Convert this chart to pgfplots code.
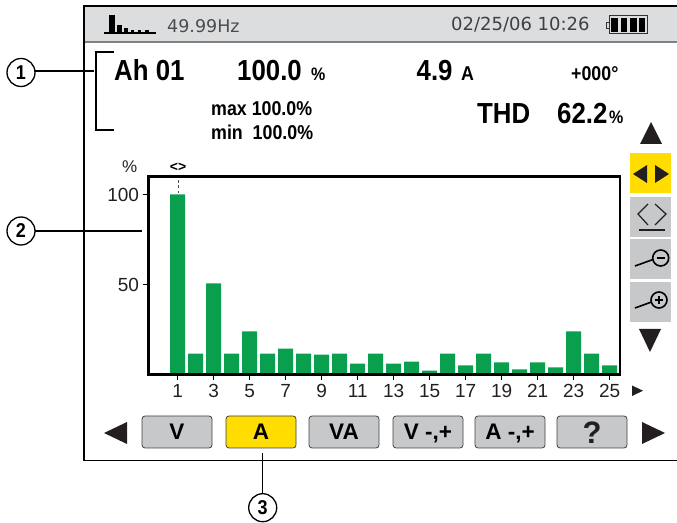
\documentclass[border=0pt]{standalone}
\usepackage{fontspec}
\usepackage{graphicx}
\usepackage{pgfplots}
\pgfplotsset{compat=1.18}
\setmainfont{Liberation Sans}
\newfontfamily\lcd{DejaVu Sans}
\definecolor{barg}{HTML}{0A9F4E}
\definecolor{yel}{HTML}{FFDD00}
\definecolor{btn}{HTML}{C6C8CA}
\definecolor{hdr}{HTML}{DCDDDE}
\definecolor{dk}{HTML}{231F20}
\newcommand\fs[1]{\fontsize{#1}{#1}\selectfont}
% \T{x}{y}{size}{text}: bold condensed text, base-left anchored
\newcommand\T[4]{\node[anchor=base west,inner sep=0pt,text=black] at (#1,#2) {\scalebox{0.89}[1]{\fs{#3}\bfseries #4}};}
\newcommand\Btn[4]{\draw[fill=#3,draw=black!75,line width=0.8pt,rounded corners=3pt] (#1,416) rectangle (#2,448);
  \node[anchor=base,inner sep=0pt,text=black] at ({(#1+#2)/2},440) {\fs{22.5}\bfseries #4};}
\newcommand\Circ[3]{\draw[black,line width=1.3pt,fill=white] (#1,#2) circle (14);
  \node[anchor=center,inner sep=0pt] at (#1,#2) {\scalebox{0.9}[1]{\fs{20}\bfseries #3}};}
\begin{document}
\begin{tikzpicture}[x=1pt,y=1pt]
\path[use as bounding box] (0,0) rectangle (677,522);
\begin{scope}[y=-1pt,yshift=522pt]
  % frame and header
  \fill[hdr] (84,6) rectangle (677,42);
  \draw[gray,line width=1.4pt] (84,42) -- (677,42);
  \draw[black,line width=1.4pt] (677,6) -- (84,6) -- (84,460.5) -- (677,460.5);
  % header icon
  \draw[black,line width=1.4pt] (104,33) -- (156,33);
  \fill[black] (109,15) rectangle (115,33);
  \fill[black] (117,25) rectangle (122,33);
  \fill[black] (124,28) rectangle (128,33);
  \fill[black] (131,30) rectangle (134,33);
  \fill[black] (138,30) rectangle (141,33);
  \fill[black] (145,30) rectangle (149,33);
  \node[anchor=base west,inner sep=0pt,text=black!70] at (167,32.7) {\lcd\fs{17.5}49.99Hz};
  \node[anchor=base west,inner sep=0pt,text=black!75] at (451,31) {\lcd\fs{18}02/25/06 10:26};
  % battery
  \draw[black!80,line width=1pt] (609,16) rectangle (647,34);
  \draw[black!80,line width=0.8pt] (609,22) -- (606.5,22) -- (606.5,28) -- (609,28);
  \fill[black] (611,18) rectangle (618,32);
  \fill[black] (621,18) rectangle (627,32);
  \fill[black] (630,18) rectangle (637,32);
  \fill[black] (639,18) rectangle (645,32);
  % bracket and callouts
  \draw[black,line width=1.2pt] (114,52) -- (96,52) -- (96,130) -- (114,130);
  \draw[black,line width=1.2pt] (35,71) -- (94,71);
  \draw[black,line width=1.2pt] (35,231) -- (142,231);
  \draw[black,line width=1.2pt] (262.7,453) -- (262.7,494);
  \Circ{21}{72.5}{1}
  \Circ{21}{231}{2}
  \Circ{262.7}{507.7}{3}
  % readouts
  \T{114}{81}{29}{Ah 01}
  \T{237}{81}{29}{100.0}
  \T{311}{81}{18}{\%}
  \T{416.5}{81}{29}{4.9}
  \T{461}{81}{20}{A}
  \T{571}{81}{20}{+000°}
  \T{211}{116}{20}{max 100.0\%}
  \T{211}{140}{20}{min\ \ 100.0\%}
  \T{477}{124}{29}{THD}
  \T{557}{124}{29}{62.2}
  \T{609}{124}{18}{\%}
  % axis annotations
  \node[anchor=base west,inner sep=0pt,text=dk] at (122,173) {\fs{17}\%};
  \node[anchor=base,inner sep=0pt,text=black] at (178,172) {\fs{14}\bfseries <>};
  \draw[black!70,line width=0.8pt,dash pattern=on 3pt off 2.5pt] (178,180) -- (178,193);
  \fill[dk] (632,385.5) -- (643,390.7) -- (632,396) -- cycle;
  % side panel
  \fill[dk] (651,122) -- (662,144) -- (640,144) -- cycle;
  \fill[yel] (630,153) rectangle (671,193);
  \fill[dk] (647,165) -- (647,183) -- (633,174) -- cycle;
  \fill[dk] (655,165) -- (655,183) -- (669,174) -- cycle;
  \fill[btn] (630,197) rectangle (671,237);
  \draw[dk,line width=1.2pt] (648,204) -- (638,214) -- (648,225);
  \draw[dk,line width=1.2pt] (655,204) -- (666,214) -- (655,225);
  \draw[dk,line width=1.2pt] (639,230) -- (665,230);
  \fill[btn] (630,239) rectangle (671,279);
  \draw[black,line width=1.6pt] (660.7,258) circle (8);
  \draw[black,line width=1.6pt] (635,266) -- (653,259.5);
  \draw[black,line width=1.8pt] (656.5,258) -- (665,258);
  \fill[btn] (630,282) rectangle (671,322);
  \draw[black,line width=1.6pt] (659,300) circle (8);
  \draw[black,line width=1.6pt] (635,308) -- (651.5,302);
  \draw[black,line width=1.8pt] (655,300) -- (663,300);
  \draw[black,line width=1.8pt] (659,296) -- (659,304);
  \fill[dk] (639,329) -- (661,329) -- (650,352) -- cycle;
  % bottom buttons
  \fill[dk] (104,433) -- (127,422) -- (127,444) -- cycle;
  \Btn{142}{212}{btn}{V}
  \Btn{226}{296}{yel}{A}
  \Btn{309}{379}{btn}{VA}
  \Btn{393}{463}{btn}{V -,+}
  \Btn{475}{545}{btn}{A -,+}
  \draw[fill=btn,draw=black!75,line width=0.8pt,rounded corners=3pt] (557,416) rectangle (627,448);
  \node[anchor=base,inner sep=0pt,text=dk] at (592,444) {\fs{31}\bfseries ?};
  \fill[dk] (642,422) -- (665,433) -- (642,444) -- cycle;
\end{scope}
\begin{axis}[
  at={(148.5pt,147.5pt)},anchor=south west,
  scale only axis,width=471.5pt,height=198pt,
  xmin=-0.622,xmax=25.57,ymin=0,ymax=110,
  axis on top,
  axis line style={line width=2.2pt,black},
  xtick={1,3,...,25},ytick={50,100},
  tick align=outside,
  major tick length=6pt,
  tick style={line width=1pt,black},
  xtick pos=bottom,ytick pos=left,
  tick label style={font=\fs{19},text=dk},
  /pgf/number format/assume math mode=true,
  ]
\addplot[ybar,bar shift=0pt,bar width=15pt,fill=barg,draw=none] coordinates {
(1,100)(2,11.6)(3,50.6)(4,11.6)(5,23.9)(6,11.6)(7,14.4)(8,11.6)(9,11)(10,11.6)
(11,6.1)(12,11.6)(13,6.1)(14,7.2)(15,2.2)(16,11.6)(17,5)(18,11.6)(19,6.7)(20,2.8)
(21,6.7)(22,3.9)(23,23.9)(24,11.6)(25,5)};
\end{axis}
\end{tikzpicture}
\end{document}
